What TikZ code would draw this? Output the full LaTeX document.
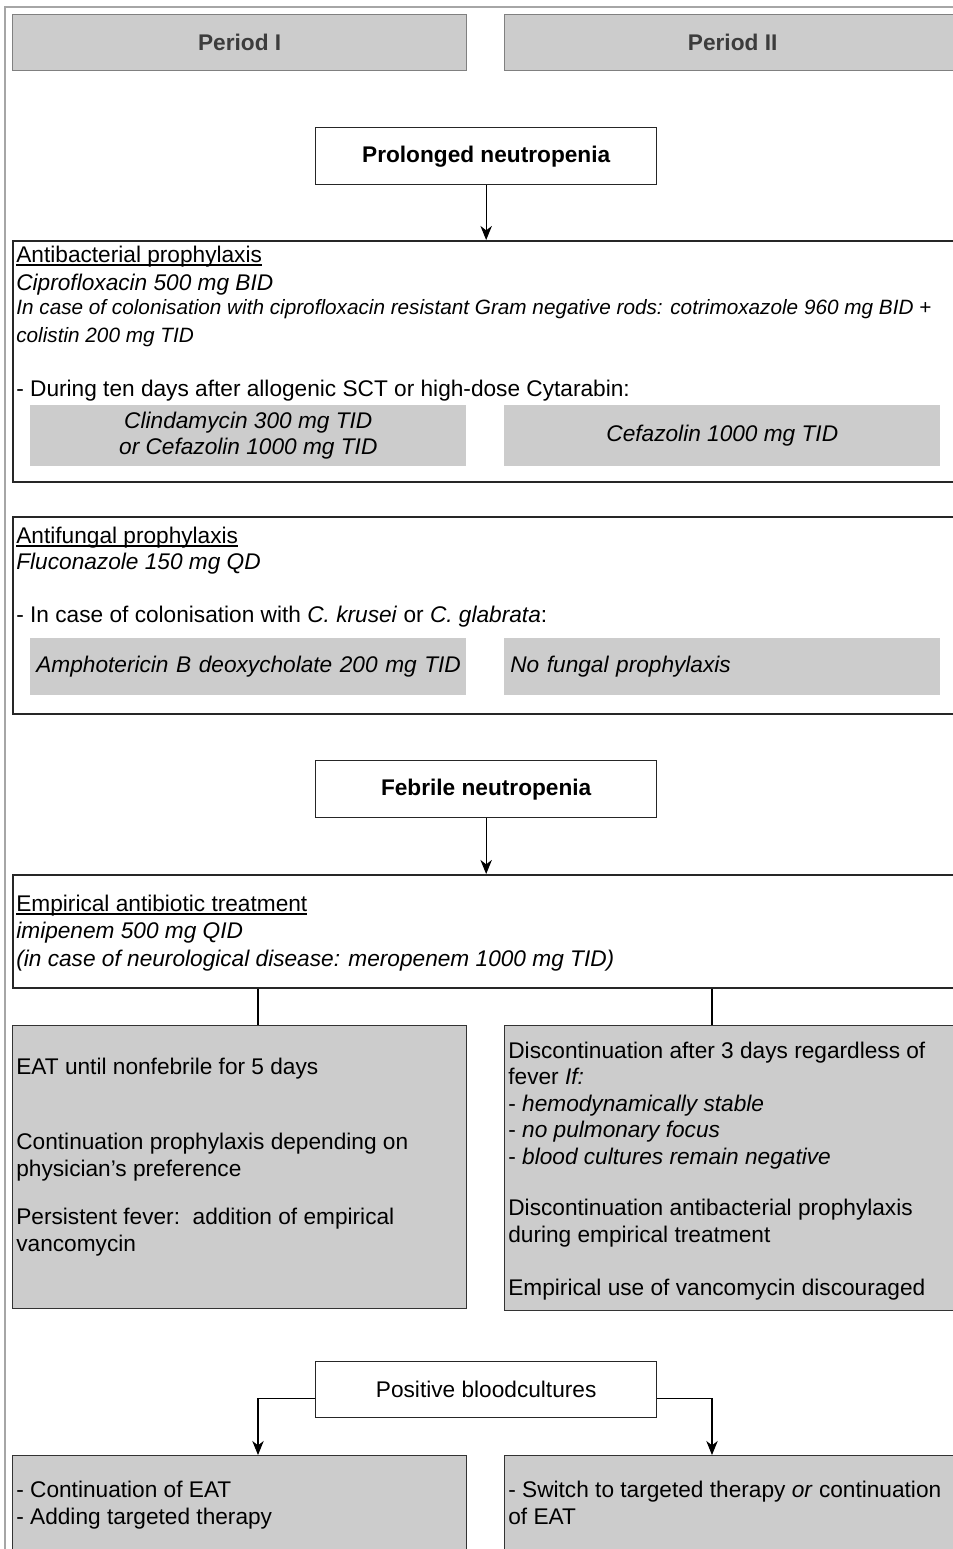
\documentclass[tikz,border=0pt]{standalone}
\usepackage{fontspec}
\setmainfont{Liberation Sans}
\usepackage{tikz}
\usetikzlibrary{arrows.meta}
\definecolor{boxgray}{HTML}{CCCCCC}
\definecolor{framegray}{HTML}{A6A6A6}
\definecolor{edgegray}{HTML}{808080}
\definecolor{textgray}{HTML}{3C3C3C}
\newcommand{\ulin}[1]{\setbox0\hbox{#1}\rlap{\rule[-2pt]{\wd0}{0.6pt}}\box0}

\begin{document}
\begin{tikzpicture}[x=0.02cm, y=-0.02cm,
        every node/.style={font=\fontsize{12.9}{15}\selectfont},
        frame/.style={draw=framegray, line width=1.2pt},
        head/.style={draw=edgegray, fill=boxgray, line width=.8pt, anchor=north west, inner sep=0pt, minimum height=1.12cm, text=textgray, font=\fontsize{12.9}{15}\selectfont\bfseries},
        event/.style={draw=black!85, fill=white, line width=.8pt, anchor=north west, inner sep=0pt, minimum width=6.82cm, minimum height=1.14cm},
        section/.style={draw=black!85, line width=1pt, anchor=north west, inner sep=0pt, minimum width=18.96cm},
        choice/.style={fill=boxgray, anchor=north west, inner sep=0pt, minimum width=8.72cm, font=\fontsize{12.9}{15}\selectfont\itshape},
        outcome/.style={draw=black!80, fill=boxgray, line width=.8pt, anchor=north west, inner sep=0pt},
        txt/.style={anchor=base west, inner sep=0pt, align=left},
        arr/.style={-{Stealth[length=8pt, width=6.5pt, inset=2.5pt]}, line width=.6pt},
        link/.style={line width=.6pt}]
        \useasboundingbox (0,0) rectangle (953,1549);

        \draw[frame] (5,1549) -- (5,7) -- (953,7);

        \node[head, minimum width=9.08cm] at (12, 14)   (p1) {Period I};
        \node[head, minimum width=9.12cm] at (504, 14)  (p2) {Period II};

        \node[event, font=\fontsize{12.9}{15}\selectfont\bfseries] at (315, 127)  (pn) {Prolonged neutropenia};

        % antibacterial (multi-line texts sit on their last baseline)
        \node[section, minimum height=4.82cm] at (12, 240)  (ab) {};
        \node[txt] at (16, 262)  (ab1) {\ulin{Antibacterial prophylaxis}};
        \node[txt] at (16, 290)  (ab2) {\itshape Ciprofloxacin 500 mg BID};
        \node[txt, font=\fontsize{11.8}{15.4}\selectfont\itshape] at (16, 342)  (ab3) {In case of colonisation with ciprofloxacin resistant Gram negative rods: cotrimoxazole 960 mg BID +\\colistin 200 mg TID};
        \node[txt] at (16, 396)  (ab4) {- During ten days after allogenic SCT or high-dose Cytarabin:};
        \node[choice, minimum height=1.22cm, align=center] at (30, 405)   (g1) {Clindamycin 300 mg TID\\or Cefazolin 1000 mg TID};
        \node[choice, minimum height=1.22cm, align=center] at (504, 405)  (g2) {Cefazolin 1000 mg TID};

        % antifungal
        \node[section, minimum height=3.94cm] at (12, 516)  (af) {};
        \node[txt] at (16, 543)  (af1) {\ulin{Antifungal prophylaxis}};
        \node[txt] at (16, 569)  (af2) {\itshape Fluconazole 150 mg QD};
        \node[txt] at (16, 622)  (af3) {- In case of colonisation with \textit{C. krusei} or \textit{C. glabrata}:};
        \node[choice, minimum height=1.14cm, text width=8.48cm, inner xsep=0.12cm, align=left] at (30, 638)   (g3) {\mbox{Amphotericin B deoxycholate 200 mg TID}};
        \node[choice, minimum height=1.14cm, text width=8.48cm, inner xsep=0.12cm, align=left] at (504, 638)  (g4) {No fungal prophylaxis};

        \node[event, font=\fontsize{12.9}{15}\selectfont\bfseries] at (315, 760)  (fn) {Febrile neutropenia};

        % empirical treatment
        \node[section, minimum height=2.26cm] at (12, 874)  (et) {};
        \node[txt] at (16, 911)  (et1) {\ulin{Empirical antibiotic treatment}};
        \node[txt, font=\fontsize{12.9}{15.4}\selectfont\itshape] at (16, 966)  (et2) {imipenem 500 mg QID\\(in case of neurological disease: meropenem 1000 mg TID)};

        \node[outcome, minimum width=9.08cm, minimum height=5.66cm] at (12, 1025)  (ls) {};
        \node[txt] at (16, 1074)  (ls1) {EAT until nonfebrile for 5 days};
        \node[txt] at (16, 1176)  (ls2) {Continuation prophylaxis depending on\\physician's preference};
        \node[txt] at (16, 1251)  (ls3) {Persistent fever:\ \ addition of empirical\\vancomycin};

        \node[outcome, minimum width=9.12cm, minimum height=5.7cm] at (504, 1025)  (rs) {};
        \node[txt] at (508, 1164)  (rs1) {Discontinuation after 3 days regardless of\\fever \textit{If:}\\- \textit{hemodynamically stable}\\- \textit{no pulmonary focus}\\- \textit{blood cultures remain negative}};
        \node[txt] at (508, 1242)  (rs2) {Discontinuation antibacterial prophylaxis\\during empirical treatment};
        \node[txt] at (508, 1295)  (rs3) {Empirical use of vancomycin discouraged};

        % positive cultures
        \node[event, minimum height=1.12cm] at (315, 1361)  (pb) {Positive bloodcultures};
        \node[outcome, minimum width=9.08cm, minimum height=2.4cm] at (12, 1455)   (lb) {};
        \node[outcome, minimum width=9.12cm, minimum height=2.4cm] at (504, 1455)  (rb) {};
        \node[txt] at (16, 1524)   (lb1) {- Continuation of EAT\\- Adding targeted therapy};
        \node[txt] at (508, 1524)  (rb1) {- Switch to targeted therapy \textit{or} continuation\\of EAT};

        \coordinate (lx) at (258, 0);
        \coordinate (rx) at (712, 0);

        \draw [arr] (pn.south) -- (pn.south |- ab.north);
        \draw [arr] (fn.south) -- (fn.south |- et.north);
        \draw [link] (et.south -| lx) -- (ls.north -| lx);
        \draw [link] (et.south -| rx) -- (rs.north -| rx);
        \draw [arr] ([yshift=-0.18cm]pb.west) -| (lb.north -| lx);
        \draw [arr] ([yshift=-0.18cm]pb.east) -| (rb.north -| rx);
    \end{tikzpicture}
\end{document}
